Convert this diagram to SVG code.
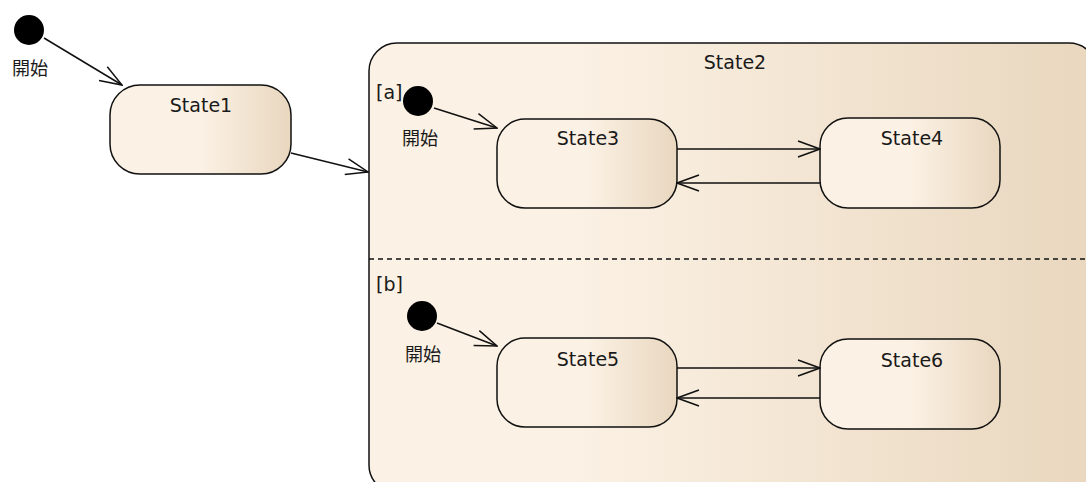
<svg xmlns="http://www.w3.org/2000/svg" width="1086" height="482" viewBox="0 0 1086 482">
<defs>
<linearGradient id="gs" x1="0" y1="0" x2="1" y2="0">
<stop offset="0" stop-color="#fbf1e4"/>
<stop offset="0.5" stop-color="#fbf1e4"/>
<stop offset="1" stop-color="#e9d7bf"/>
</linearGradient>
<linearGradient id="gc" x1="0" y1="0" x2="1" y2="0">
<stop offset="0" stop-color="#fbf1e4"/>
<stop offset="0.28" stop-color="#fbf1e4"/>
<stop offset="1" stop-color="#e9d7be"/>
</linearGradient>
<marker id="arr" markerUnits="userSpaceOnUse" viewBox="0 0 24 18" refX="23" refY="9" markerWidth="24" markerHeight="18" orient="auto">
<path d="M1,1 L23,9 L1,17" fill="none" stroke="#111" stroke-width="1.5"/>
</marker>
<style>
.st{fill:url(#gs);stroke:#111;stroke-width:1.5}
.cs{fill:url(#gc);stroke:#111;stroke-width:1.5}
.lbl{font-family:"DejaVu Sans",Verdana,sans-serif;font-size:19px;fill:#1a1a1a}
.jp{font-family:"Noto Sans CJK JP","Noto Sans",sans-serif;font-size:18px;fill:#1a1a1a}
.init{fill:#000}
.conn{fill:none;stroke:#111;stroke-width:1.5;marker-end:url(#arr)}
</style>
</defs>
<g id="initial1">
<circle class="init" cx="29" cy="30" r="15"/>
<text class="jp" x="30" y="75" text-anchor="middle">開始</text>
</g>
<g id="State1">
<rect class="st" x="110" y="85" width="181" height="89" rx="30" ry="30"/>
<text class="lbl" x="201" y="112" text-anchor="middle">State1</text>
</g>
<g id="State2">
<rect class="cs" x="369" y="43" width="728" height="450" rx="28" ry="28"/>
<text class="lbl" x="735" y="69" text-anchor="middle">State2</text>
<line x1="369" y1="259" x2="1086" y2="259" stroke="#111" stroke-width="1.3" stroke-dasharray="5,4"/>
<text class="lbl" x="376" y="99">[a]</text>
<text class="lbl" x="376" y="291">[b]</text>
</g>
<g id="initial2">
<circle class="init" cx="418" cy="101" r="15"/>
<text class="jp" x="420" y="145" text-anchor="middle">開始</text>
</g>
<g id="initial3">
<circle class="init" cx="422" cy="316" r="15"/>
<text class="jp" x="423" y="361" text-anchor="middle">開始</text>
</g>
<g id="State3">
<rect class="st" x="497" y="119" width="180" height="89" rx="28" ry="28"/>
<text class="lbl" x="588" y="145" text-anchor="middle">State3</text>
</g>
<g id="State4">
<rect class="st" x="820" y="118" width="180" height="90" rx="28" ry="28"/>
<text class="lbl" x="912" y="145" text-anchor="middle">State4</text>
</g>
<g id="State5">
<rect class="st" x="497" y="338" width="180" height="89" rx="28" ry="28"/>
<text class="lbl" x="588" y="366" text-anchor="middle">State5</text>
</g>
<g id="State6">
<rect class="st" x="820" y="339" width="180" height="90" rx="28" ry="28"/>
<text class="lbl" x="912" y="367" text-anchor="middle">State6</text>
</g>
<g id="connectors">
<line class="conn" x1="44" y1="38" x2="122" y2="85"/>
<line class="conn" x1="291" y1="153" x2="368" y2="172"/>
<line class="conn" x1="434" y1="108" x2="497" y2="128"/>
<line class="conn" x1="677" y1="149" x2="820" y2="149"/>
<line class="conn" x1="820" y1="183" x2="677" y2="183"/>
<line class="conn" x1="437" y1="323" x2="497" y2="346"/>
<line class="conn" x1="677" y1="368" x2="820" y2="368"/>
<line class="conn" x1="820" y1="398" x2="677" y2="398"/>
</g>
</svg>
